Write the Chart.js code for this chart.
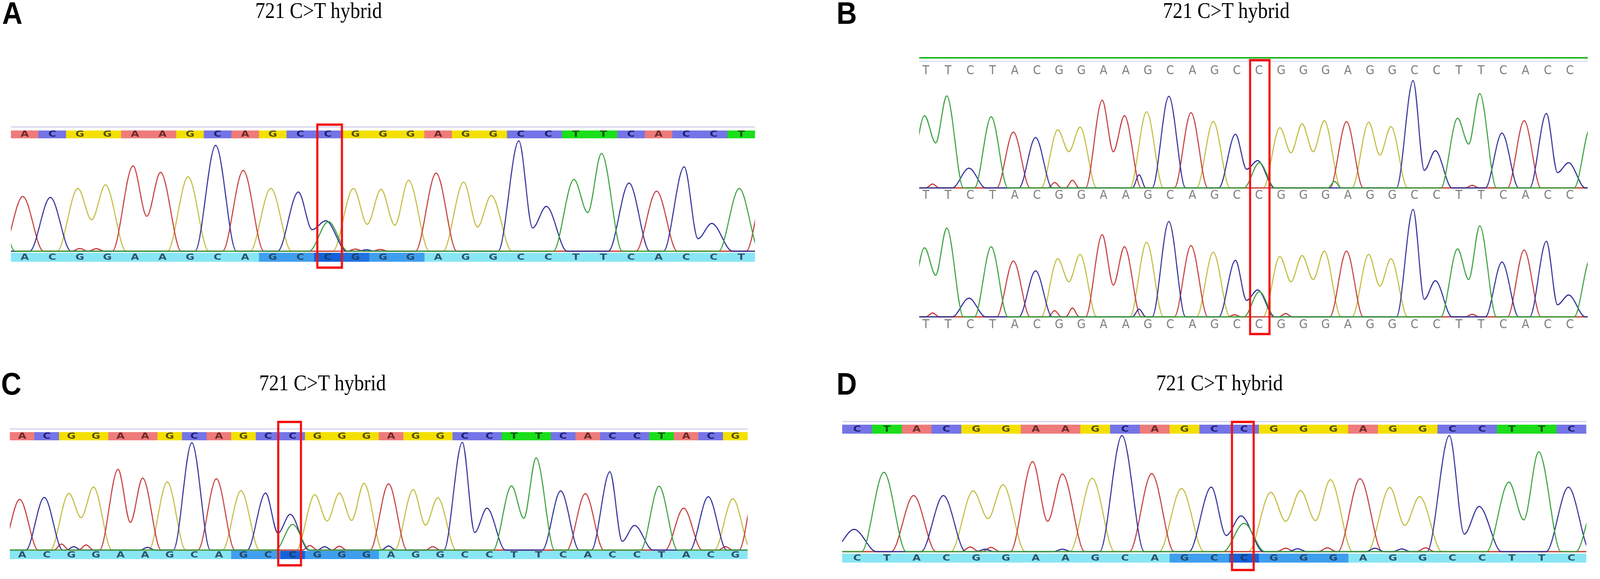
<!DOCTYPE html>
<html>
<head>
<meta charset="utf-8">
<script src="https://cdn.jsdelivr.net/npm/chart.js@4.4.1/dist/chart.umd.min.js"></script>
<style>
  html, body { margin: 0; padding: 0; background: #ffffff; overflow: hidden; }
  #fig { position: absolute; left: 0; top: 0; width: 4550px; height: 1482px; transform-origin: 0 0; background: #ffffff; }
  .lbl { position: absolute; font-family: "Liberation Sans", Arial, sans-serif; font-weight: bold; font-size: 80px; line-height: 80px; color: #000; }
  .ttl { position: absolute; font-family: "Liberation Serif", "Times New Roman", serif; font-size: 56px; line-height: 56px; color: #000; white-space: nowrap; }
  canvas { position: absolute; }
</style>
</head>
<body>
<div id="fig">
<div class="lbl" style="left:6px;top:-6px">A</div>
<div class="lbl" style="left:2379px;top:-6px">B</div>
<div class="lbl" style="left:3px;top:943px">C</div>
<div class="lbl" style="left:2379px;top:943px">D</div>
<div class="ttl" style="left:726px;top:-1px">721 C&gt;T hybrid</div>
<div class="ttl" style="left:3307px;top:-1px">721 C&gt;T hybrid</div>
<div class="ttl" style="left:737px;top:952px">721 C&gt;T hybrid</div>
<div class="ttl" style="left:3288px;top:952px">721 C&gt;T hybrid</div>

<canvas id="cA" width="2116" height="400" style="left:31px;top:300px"></canvas>
<canvas id="cB" width="1901" height="740" style="left:2614px;top:130px"></canvas>
<canvas id="cC" width="2098" height="410" style="left:28px;top:1060px"></canvas>
<canvas id="cD" width="2116" height="410" style="left:2395px;top:1060px"></canvas>
</div>

<script>
// fit the 4550x1482 figure into whatever window we are given
(function () {
  const sx = (window.innerWidth || 4550) / 4550, sy = (window.innerHeight || 1482) / 1482;
  document.getElementById('fig').style.transform = 'scale(' + sx + ',' + sy + ')';
})();

// ---------------- DATA ----------------
// Panel A
const A_bases  = ['A','C','G','G','A','A','G','C','A','G','C','C','G','G','G','A','G','G','C','C','T','T','C','A','C','C','T','A'];
const A_peaks  = [305,300,350,370,475,440,415,590,450,350,330,170,350,345,395,435,385,310,615,250,400,545,380,335,470,155,350,420];
const A_valleys = [[2,175],[4,195],[10,120],[12,150],[13,145],[16,135],[18,130],[20,215],[24,70]];
const A_extra  = [['T',-1.05,300],['T',11.02,165]];
const A_minor  = [['A',2.0,15],['A',2.6,14],['A',12.0,12],['A',12.9,10],['C',12.4,8]];

// Panel B (two traces of the same read)
const B_bases  = ['T','T','C','T','A','C','G','G','A','A','G','C','A','G','C','C','G','G','G','A','G','G','C','C','T','T','C','A','C','C','T'];
const B1_peaks = [330,420,90,325,255,230,265,277,400,330,347,418,343,303,245,125,275,293,307,302,300,280,490,170,318,430,250,307,340,115,280];
const B1_valleys = [[0,205],[6,165],[8,165],[14,85],[16,160],[17,165],[20,150],[22,80],[24,200],[28,70]];
const B1_extra = [['T',15.02,115]];
const B1_minor = [['A',0.3,18],['A',5.8,25],['A',6.6,35],['C',9.6,60],['T',18.4,30],['A',24.6,12]];
const B2_peaks = [315,405,85,320,255,210,265,285,375,320,340,435,325,295,258,123,275,280,300,300,285,265,490,165,310,415,250,305,345,100,270];
const B2_valleys = [[0,190],[6,160],[8,145],[14,75],[16,160],[17,170],[20,140],[22,80],[24,170],[28,55]];
const B2_extra = [['T',15.02,115]];
const B2_minor = [['A',0.3,18],['A',5.8,28],['A',6.6,40],['C',9.6,35],['A',13.9,10],['A',16.2,15],['A',24.6,12]];

// Panel C
const C_bases  = ['A','C','G','G','A','A','G','C','A','G','C','C','G','G','G','A','G','G','C','C','T','T','C','A','C','C','T','A','C','G','A'];
const C_peaks  = [375,390,420,467,598,533,505,795,528,440,422,265,410,422,495,490,448,387,798,310,475,683,438,418,580,183,473,310,395,380,550];
const C_valleys = [[2,240],[4,205],[10,125],[12,215],[13,220],[16,185],[18,130],[20,235],[24,65]];
const C_extra  = [['T',11.0,190]];
const C_minor  = [['A',1.6,45],['A',2.6,38],['C',2.1,25],['C',5.1,20],['A',11.7,35],['C',12.3,25],['A',12.9,28],['C',14.9,30],['A',16.7,25],['A',28.6,25]];

// Panel D
const D_bases  = ['C','T','A','C','G','G','A','A','G','C','A','G','C','C','G','G','G','A','G','G','C','C','T','T','C','T'];
const D_peaks  = [165,587,415,415,450,495,667,575,543,860,578,467,478,265,440,453,533,540,475,408,860,335,515,740,477,450];
const D_valleys = [[4,245],[6,225],[12,120],[14,225],[15,230],[18,195],[20,130],[22,235]];
const D_extra  = [['T',13.0,210]];
const D_minor  = [['A',3.8,35],['A',4.5,32],['C',4.3,18],['C',6.9,18],['A',14.4,25],['C',14.8,22],['A',15.8,28],['C',17.4,25],['C',18.3,20],['A',19.1,28]];

const TITLE = '721 C>T hybrid';

// ---------------- STYLE ----------------
const TRACE_COL = { A: '#c63a3a', C: '#30309a', G: '#c2bb3e', T: '#37a03c' };
const BAR_COL   = { A: '#ee7b7a', C: '#7474e8', G: '#f4e000', T: '#1adf1a' };
const BAR_TXT   = { A: '#6e2a2a', C: '#20206e', G: '#55500f', T: '#0c520c' };
const DRAW_ORDER = ['T','C','A','G'];   // first = on top

function buildTrace(bases, peaks, valleys, extra, minor, base, shift, xmin, xmax) {
  const vmap = new Map(valleys);
  const items = [];
  bases.forEach((b, i) => { if (b === base) items.push({ x: i + shift, y: peaks[i], i: i, w: 0.75 }); });
  extra.forEach(e => { if (e[0] === base) items.push({ x: e[1], y: e[2], i: null, w: 0.7 }); });
  minor.forEach(m => { if (m[0] === base) items.push({ x: m[1], y: m[2], i: null, w: 0.3 }); });
  items.sort((a, b) => a.x - b.x);
  const pts = [{ x: xmin - 2, y: 0 }];
  let prev = null;
  for (const p of items) {
    if (prev) {
      const adj = prev.i !== null && p.i === prev.i + 1 && vmap.has(prev.i);
      if (adj) pts.push({ x: (prev.x + p.x) / 2, y: vmap.get(prev.i) });
      else {
        const r = prev.x + prev.w, l = p.x - p.w;
        if (l > r) { pts.push({ x: r, y: 0 }); pts.push({ x: l, y: 0 }); }
        else pts.push({ x: (prev.x + p.x) / 2, y: 0 });
      }
    } else pts.push({ x: p.x - p.w, y: 0 });
    pts.push({ x: p.x, y: p.y });
    prev = p;
  }
  if (prev) pts.push({ x: prev.x + prev.w, y: 0 });
  pts.push({ x: xmax + 2, y: 0 });
  return pts;
}

function datasetsFor(tr, shift, xmin, xmax, axis, width) {
  return DRAW_ORDER.map(b => ({
    label: b + (axis || ''),
    data: buildTrace(tr.bases, tr.peaks, tr.valleys, tr.extra, tr.minor, b, shift, xmin, xmax),
    borderColor: TRACE_COL[b],
    borderWidth: width,
    pointRadius: 0,
    fill: false,
    cubicInterpolationMode: 'monotone',
    yAxisID: axis || 'y'
  }));
}

function drawLetter(ctx, ch, x, y, sx, font, color) {
  ctx.save();
  ctx.translate(x, y);
  ctx.scale(sx, 1);
  ctx.font = font;
  ctx.fillStyle = color;
  ctx.textAlign = 'center';
  ctx.textBaseline = 'middle';
  ctx.fillText(ch, 0, 0);
  ctx.restore();
}

function decorPlugin(cfg) {
  return {
    id: 'decor' + cfg.key,
    afterDraw(chart) {
      const ctx = chart.ctx, xs = chart.scales.x, ca = chart.chartArea;
      const X = v => xs.getPixelForValue(v);
      const Y = py => py - cfg.top;
      const W = ca.right - ca.left;
      const inRange = v => v >= xs.min && v <= xs.max;
      ctx.save();
      ctx.beginPath();
      ctx.rect(ca.left, 0, W, chart.height);
      ctx.clip();
      if (cfg.style === 'bars') {
        ctx.fillStyle = '#d2d2ec';
        ctx.fillRect(ca.left, Y(cfg.line) - 1.5, W, 3);
        const [t0, t1] = cfg.topBar;
        cfg.bases.forEach((b, i) => {
          ctx.fillStyle = BAR_COL[b];
          ctx.fillRect(X(i - 0.5), Y(t0), X(i + 0.5) - X(i - 0.5) + 0.6, t1 - t0);
        });
        cfg.bases.forEach((b, i) => {
          if (inRange(i)) drawLetter(ctx, b, X(i), Y((t0 + t1) / 2) + 1, 1.45, 'bold 21px "DejaVu Sans"', BAR_TXT[b]);
        });
        const [b0, b1] = cfg.botBar;
        ctx.fillStyle = '#88e6f4';
        ctx.fillRect(ca.left, Y(b0), W, b1 - b0);
        cfg.shade.forEach(([i, col]) => {
          ctx.fillStyle = col;
          ctx.fillRect(X(i - 0.5), Y(b0), X(i + 0.5) - X(i - 0.5) + 0.6, b1 - b0);
        });
        cfg.bases.forEach((b, i) => {
          if (inRange(i)) drawLetter(ctx, b, X(i), Y((b0 + b1) / 2) + 1, 1.45, 'bold 21px "DejaVu Sans"', 'rgba(30,55,80,0.85)');
        });
      } else {
        ctx.fillStyle = '#1db51d';
        ctx.fillRect(ca.left, Y(cfg.greenLine) - 2, W, 4);
        ctx.fillStyle = '#cbd4f2';
        ctx.fillRect(ca.left, Y(cfg.line) - 1, W, 2);
        cfg.rows.forEach(yc => {
          cfg.bases.forEach((b, i) => {
            if (inRange(i)) drawLetter(ctx, b, X(i), Y(yc), 1, '32px "DejaVu Sans"', '#7c7c7c');
          });
        });
      }
      ctx.restore();
      const [v0, v1, y0, y1] = cfg.box;
      ctx.save();
      ctx.strokeStyle = '#f41010';
      ctx.lineWidth = 6;
      ctx.strokeRect(X(v0) + 3, Y(y0) + 3, X(v1) - X(v0) - 6, y1 - y0 - 6);
      ctx.restore();
    }
  };
}

function makeChart(id, cfg, datasets, scalesY) {
  const scales = { x: { type: 'linear', min: cfg.xmin, max: cfg.xmax, display: false } };
  Object.assign(scales, scalesY);
  return new Chart(document.getElementById(id), {
    type: 'line',
    data: { datasets },
    options: {
      responsive: false,
      animation: false,
      devicePixelRatio: 1,
      events: [],
      layout: { padding: { top: cfg.padTop, bottom: cfg.padBottom, left: 0, right: 0 } },
      plugins: { legend: { display: false }, tooltip: { enabled: false }, title: { display: false } },
      scales
    },
    plugins: [decorPlugin(cfg)]
  });
}

// ---------------- PANEL A ----------------
const cfgA = { key: 'A', style: 'bars', top: 300, padTop: 55, padBottom: 54, xmin: -0.5, xmax: 26.5,
  bases: A_bases, line: 325, topBar: [334, 354], botBar: [647, 670],
  shade: [[9,'#3f9fee'],[10,'#3f9fee'],[11,'#1462da'],[12,'#1f72e2'],[13,'#3f9fee'],[14,'#3f9fee']],
  box: [10.58, 11.55, 316, 688] };
makeChart('cA', cfgA,
  datasetsFor({ bases: A_bases, peaks: A_peaks, valleys: A_valleys, extra: A_extra, minor: A_minor }, -0.07, cfgA.xmin, cfgA.xmax, 'y', 3),
  { y: { min: -6.5, max: 627, display: false } });

// ---------------- PANEL B ----------------
const cfgB = { key: 'B', style: 'plain', top: 130, padTop: 68, padBottom: 56, xmin: -0.30, xmax: 29.80,
  bases: B_bases, greenLine: 148, line: 157, rows: [182, 501, 832],
  box: [14.55, 15.52, 151, 858] };
makeChart('cB', cfgB,
  datasetsFor({ bases: B_bases, peaks: B1_peaks, valleys: B1_valleys, extra: B1_extra, minor: B1_minor }, -0.06, cfgB.xmin, cfgB.xmax, 'yU', 3)
    .concat(datasetsFor({ bases: B_bases, peaks: B2_peaks, valleys: B2_valleys, extra: B2_extra, minor: B2_minor }, -0.06, cfgB.xmin, cfgB.xmax, 'yL', 3)),
  { yU: { min: -593.6, max: 504.5, display: false }, yL: { min: -5.35, max: 1092.7, display: false } });

// ---------------- PANEL C ----------------
const cfgC = { key: 'C', style: 'bars', top: 1060, padTop: 68, padBottom: 60, xmin: -0.5, xmax: 29.5,
  bases: C_bases, line: 1098, topBar: [1106, 1127], botBar: [1410, 1431],
  shade: [[9,'#3f9fee'],[10,'#3f9fee'],[11,'#1462da'],[12,'#3f9fee'],[13,'#3f9fee'],[14,'#3f9fee']],
  box: [10.37, 11.38, 1077, 1450] };
makeChart('cC', cfgC,
  datasetsFor({ bases: C_bases, peaks: C_peaks, valleys: C_valleys, extra: C_extra, minor: C_minor }, -0.1, cfgC.xmin, cfgC.xmax, 'y', 3),
  { y: { min: -5.8, max: 810, display: false } });

// ---------------- PANEL D ----------------
const cfgD = { key: 'D', style: 'bars', top: 1060, padTop: 51, padBottom: 54, xmin: -0.5, xmax: 24.5,
  bases: D_bases, line: 1079, topBar: [1087, 1110], botBar: [1417, 1440],
  shade: [[11,'#3f9fee'],[12,'#3f9fee'],[13,'#1462da'],[14,'#3f9fee'],[15,'#3f9fee'],[16,'#3f9fee']],
  box: [12.56, 13.36, 1077, 1462] };
makeChart('cD', cfgD,
  datasetsFor({ bases: D_bases, peaks: D_peaks, valleys: D_valleys, extra: D_extra, minor: D_minor }, -0.1, cfgD.xmin, cfgD.xmax, 'y', 3),
  { y: { min: -11.6, max: 870.7, display: false } });
</script>
</body>
</html>
